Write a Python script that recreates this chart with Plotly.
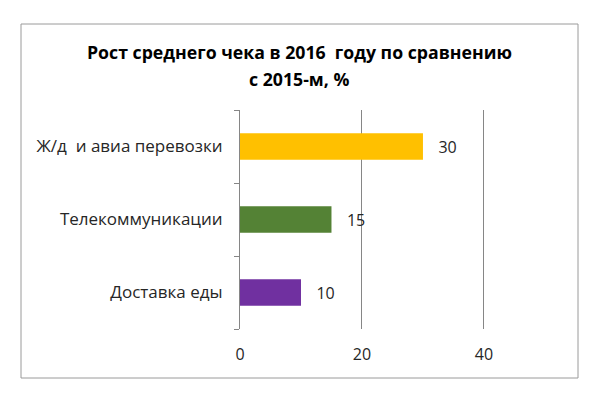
import plotly.graph_objects as go

categories = ["Доставка еды", "Телекоммуникации", "Ж/д  и авиа перевозки"]
values = [10, 15, 30]
colors = ["#7030A0", "#548235", "#FFC000"]
x_ticks = [0, 20, 40]
x_max = 40.5
title_lines = ["Рост среднего чека в 2016  году по сравнению", "с 2015-м, %"]

OFF = 8  # default page margin of the HTML body
L, R, T, B = 240 - OFF, 487 - OFF, 110 - OFF, 329 - OFF
W, H = 600, 401
pw, ph = R - L, B - T

def px_x(p):
    return (p - OFF - L) / pw

def px_y(p):
    return (B - (p - OFF)) / ph

fig = go.Figure(go.Bar(
    x=values, y=categories, orientation="h",
    marker=dict(color=colors, line=dict(width=0)),
    width=0.36,
    text=["   " + str(v) for v in values], textposition="outside",
    textfont=dict(size=16, color="#262626", family="Open Sans"),
    cliponaxis=False,
))

fig.update_layout(
    width=W, height=H,
    margin=dict(l=L, r=W - R, t=T, b=H - B, autoexpand=False),
    paper_bgcolor="white", plot_bgcolor="white",
    showlegend=False,
    xaxis=dict(
        range=[0, x_max], tickvals=x_ticks, showgrid=True, gridcolor="#868686", gridwidth=1,
        zeroline=False, showline=False, ticks="", automargin=False,
        ticklabelstandoff=14,
        tickfont=dict(size=16, color="#262626", family="Open Sans"),
    ),
    yaxis=dict(
        showline=True, linecolor="#868686", linewidth=1, automargin=False,
        ticks="outside", tickson="boundaries", ticklen=5, tickcolor="#868686",
        ticklabelstandoff=13,
        tickfont=dict(size=17, color="#262626", family="Open Sans"),
        showgrid=False, zeroline=False,
    ),
    annotations=[
        dict(text="<b>" + title_lines[0] + "</b>", xref="paper", yref="paper",
             x=px_x(299), y=px_y(52), xanchor="center", yanchor="middle", showarrow=False,
             font=dict(size=17.7, color="#000000", family="Open Sans")),
        dict(text="<b>" + title_lines[1] + "</b>", xref="paper", yref="paper",
             x=px_x(299), y=px_y(79), xanchor="center", yanchor="middle", showarrow=False,
             font=dict(size=17.7, color="#000000", family="Open Sans")),
    ],
    shapes=[dict(
        type="rect", xref="paper", yref="paper",
        x0=px_x(21), x1=px_x(578), y0=px_y(378), y1=px_y(24),
        line=dict(color="#9a9a9a", width=1), fillcolor="rgba(0,0,0,0)", layer="below",
    )],
)

fig.write_html("out.html")
